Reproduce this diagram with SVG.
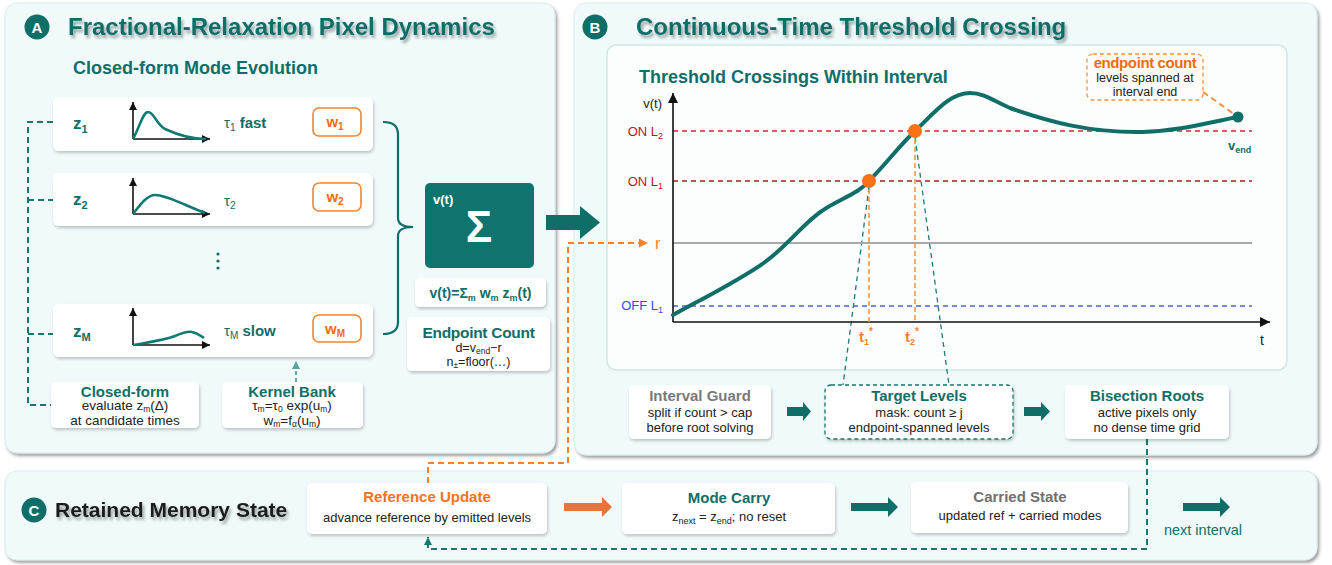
<svg xmlns="http://www.w3.org/2000/svg" width="1332" height="565" viewBox="0 0 1332 565">
<defs>
<style>
text{font-family:"Liberation Sans",Arial,Helvetica,sans-serif;}
.panel{fill:#f0fafb;stroke:#d8ecec;stroke-width:1;filter:url(#panelShadow);}
.ptitle{font-size:24px;font-weight:bold;fill:#0f6e68;filter:url(#textShadow);}
.badge{fill:#0f6e68;}
.badgeT{font-size:15px;font-weight:bold;fill:#fff;text-anchor:middle;}
.card{fill:#fff;filter:url(#boxShadow);}
.tb{font-weight:bold;fill:#0f6e68;}
.t15b{font-size:15px;font-weight:bold;text-anchor:middle;}
.sub13{font-size:13px;fill:#222;text-anchor:middle;}
.sub14{font-size:13.5px;fill:#222;text-anchor:middle;}
.spark{fill:none;stroke:#0f7a72;stroke-width:2.5;}
.axis{stroke:#111;stroke-width:1.6;fill:none;}
.wbox{fill:#fff;stroke:#f7852c;stroke-width:1.6;}
.wT{font-size:15px;font-weight:bold;fill:#f26b0f;text-anchor:middle;}
.dashTeal{fill:none;stroke:#17766f;stroke-width:2;stroke-dasharray:6 4;}
.dashOr{fill:none;stroke:#f7802a;stroke-width:2;stroke-dasharray:6 4;}
</style>
<filter id="panelShadow" x="-3%" y="-3%" width="106%" height="110%"><feDropShadow dx="2" dy="2.5" stdDeviation="1.5" flood-color="#333" flood-opacity="0.45"/></filter>
<filter id="boxShadow" x="-10%" y="-15%" width="125%" height="140%"><feDropShadow dx="1" dy="2" stdDeviation="1.8" flood-color="#000" flood-opacity="0.22"/></filter>
<filter id="textShadow" x="-5%" y="-20%" width="110%" height="150%"><feDropShadow dx="2" dy="3" stdDeviation="1.5" flood-color="#000" flood-opacity="0.35"/></filter>
<marker id="ahBlk" viewBox="0 0 10 10" refX="10" refY="5" markerWidth="8" markerHeight="8" markerUnits="userSpaceOnUse" orient="auto"><path d="M0,0 L10,5 L0,10 z" fill="#111"/></marker>
<marker id="ahAxis" viewBox="0 0 10 10" refX="10" refY="5" markerWidth="11" markerHeight="10" markerUnits="userSpaceOnUse" orient="auto"><path d="M0,0 L10,5 L0,10 z" fill="#111"/></marker>
<marker id="ahOr" viewBox="0 0 10 10" refX="10" refY="5" markerWidth="9" markerHeight="9" markerUnits="userSpaceOnUse" orient="auto"><path d="M0,0 L10,5 L0,10 z" fill="#f7802a"/></marker>
<marker id="ahTeal" viewBox="0 0 10 10" refX="10" refY="5" markerWidth="8" markerHeight="8" markerUnits="userSpaceOnUse" orient="auto"><path d="M0,0 L10,5 L0,10 z" fill="#17766f"/></marker>
<marker id="ahTealL" viewBox="0 0 10 10" refX="10" refY="5" markerWidth="8" markerHeight="8" markerUnits="userSpaceOnUse" orient="auto"><path d="M0,0 L10,5 L0,10 z" fill="#5aa39c"/></marker>
</defs>

<!-- Panels -->
<g id="panel-a">
<rect class="panel" x="5" y="3" width="550" height="450" rx="12"/>
<circle class="badge" cx="37" cy="27" r="12.5"/>
<text class="badgeT" x="37" y="32.5">A</text>
<text class="ptitle" x="68" y="35">Fractional-Relaxation Pixel Dynamics</text>
<text x="73" y="74" font-size="18" font-weight="bold" fill="#0f6e68">Closed-form Mode Evolution</text>
</g>
<g id="panel-b">
<rect class="panel" x="574" y="3" width="743" height="452" rx="12"/>
<circle class="badge" cx="595" cy="27" r="12.5"/>
<text class="badgeT" x="595" y="32.5">B</text>
<text class="ptitle" x="636" y="35">Continuous-Time Threshold Crossing</text>
<rect x="607" y="45" width="680" height="325" rx="9" fill="#fcfefe" stroke="#cfe7e5" stroke-width="1.5"/>
</g>
<g id="panel-c">
<rect class="panel" x="5" y="471" width="1312" height="89" rx="12"/>
<circle class="badge" cx="34" cy="510" r="12.5"/>
<text class="badgeT" x="34" y="515.5">C</text>
<text x="55" y="517" font-size="21" font-weight="bold" fill="#1c1c1c" filter="url(#textShadow)">Retained Memory State</text>
</g>

<!-- Connectors -->
<g id="connectors">
<path class="dashTeal" d="M53,122 H28 V405 H51 M28,200 H53 M28,334 H53"/>
<path d="M383,122 Q398,122 398,134 V218 Q398,227 413,227 Q398,227 398,236 V322 Q398,334 383,334" fill="none" stroke="#0f6e68" stroke-width="2.2"/>
<line x1="296" y1="382" x2="296" y2="361" stroke="#5aa39c" stroke-width="1.8" stroke-dasharray="4 3" marker-end="url(#ahTealL)"/>
<polygon points="546,215 580,215 580,206 600,222.5 580,239 580,230 546,230" fill="#0f6e68"/>
<path class="dashOr" d="M428,483 V463 H568 V243 H648" marker-end="url(#ahOr)"/>
<line x1="869" y1="187" x2="843" y2="385" stroke="#1b7a73" stroke-width="1.3" stroke-dasharray="5 4"/>
<line x1="915" y1="137" x2="949" y2="385" stroke="#1b7a73" stroke-width="1.3" stroke-dasharray="5 4"/>
<line x1="1203" y1="92" x2="1234" y2="114" stroke="#f7923c" stroke-width="2" stroke-dasharray="6 4"/>
<polygon points="787,407 803,407 803,402 811,411.5 803,421 803,416 787,416" fill="#0f6e68"/>
<polygon points="1024,407 1041,407 1041,402 1050,411.5 1041,421 1041,416 1024,416" fill="#0f6e68"/>
<path class="dashTeal" d="M1147,439 V549 H428 V537" stroke-width="1.8" marker-end="url(#ahTeal)"/>
<polygon points="564,503 602,503 602,497 612,507 602,517 602,511 564,511" fill="#e8743b"/>
<polygon points="851,503 888,503 888,497 898,507 888,517 888,511 851,511" fill="#0f6e68"/>
<polygon points="1183,503 1220,503 1220,497 1230,507 1220,517 1220,511 1183,511" fill="#0f6e68"/>
</g>

<!-- Mode rows -->
<g id="node-mode-1">
<rect class="card" x="53" y="97" width="320" height="54" rx="6"/>
<text class="tb" x="73" y="129" font-size="17">z<tspan font-size="11" dy="4">1</tspan></text>
<line class="axis" x1="133" y1="139" x2="133" y2="102" marker-end="url(#ahBlk)"/>
<line class="axis" x1="133" y1="139" x2="210" y2="139" marker-end="url(#ahBlk)"/>
<path class="spark" d="M133,139 C140,126 143,112 148,112 C154,112 156,124 165,129 C180,136 192,139 206,139"/>
<text x="224" y="128" font-size="15" fill="#0f6e68">τ<tspan font-size="10" dy="3">1</tspan><tspan dy="-3" font-weight="bold"> fast</tspan></text>
<rect class="wbox" x="313" y="108" width="48" height="28" rx="6"/>
<text class="wT" x="335" y="127">w<tspan font-size="10" dy="3">1</tspan></text>
</g>
<g id="node-mode-2">
<rect class="card" x="53" y="173" width="320" height="53" rx="6"/>
<text class="tb" x="73" y="205" font-size="17">z<tspan font-size="11" dy="4">2</tspan></text>
<line class="axis" x1="133" y1="214" x2="133" y2="178" marker-end="url(#ahBlk)"/>
<line class="axis" x1="133" y1="214" x2="210" y2="214" marker-end="url(#ahBlk)"/>
<path class="spark" d="M133,214 C140,205 147,195 155,195 C166,195 182,204 205,213"/>
<text x="224" y="206" font-size="15" fill="#0f6e68">τ<tspan font-size="10" dy="3">2</tspan></text>
<rect class="wbox" x="313" y="183" width="48" height="28" rx="6"/>
<text class="wT" x="335" y="202">w<tspan font-size="10" dy="3">2</tspan></text>
</g>
<g id="node-dots">
<circle cx="218" cy="254" r="1.6" fill="#0f6e68"/>
<circle cx="218" cy="261" r="1.6" fill="#0f6e68"/>
<circle cx="218" cy="268" r="1.6" fill="#0f6e68"/>
</g>
<g id="node-mode-m">
<rect class="card" x="53" y="304" width="320" height="53" rx="6"/>
<text class="tb" x="73" y="337" font-size="17">z<tspan font-size="11" dy="4">M</tspan></text>
<line class="axis" x1="133" y1="345" x2="133" y2="308" marker-end="url(#ahBlk)"/>
<line class="axis" x1="133" y1="345" x2="210" y2="345" marker-end="url(#ahBlk)"/>
<path class="spark" d="M133,345 C150,342 165,340 175,336 C182,333 188,331 192,332 C197,333 201,336 204,338"/>
<text x="224" y="336" font-size="15" fill="#0f6e68">τ<tspan font-size="10" dy="3">M</tspan><tspan dy="-3" font-weight="bold"> slow</tspan></text>
<rect class="wbox" x="313" y="315" width="48" height="27" rx="6"/>
<text class="wT" x="335" y="334">w<tspan font-size="10" dy="3">M</tspan></text>
</g>

<g id="node-closed-form">
<rect class="card" x="51" y="382" width="148" height="46" rx="5"/>
<text class="t15b" x="125" y="397" fill="#0f6e68">Closed-form</text>
<text class="sub14" x="125" y="410">evaluate z<tspan font-size="8.5" dy="2">m</tspan><tspan dy="-2">(Δ)</tspan></text>
<text class="sub14" x="125" y="425">at candidate times</text>
</g>
<g id="node-kernel-bank">
<rect class="card" x="222" y="382" width="141" height="46" rx="5"/>
<text class="t15b" x="292" y="397" fill="#0f6e68">Kernel Bank</text>
<text class="sub14" x="292" y="410">τ<tspan font-size="8.5" dy="2">m</tspan><tspan dy="-2">=τ</tspan><tspan font-size="8.5" dy="2">0</tspan><tspan dy="-2"> exp(u</tspan><tspan font-size="8.5" dy="2">m</tspan><tspan dy="-2">)</tspan></text>
<text class="sub14" x="292" y="425">w<tspan font-size="8.5" dy="2">m</tspan><tspan dy="-2">=f</tspan><tspan font-size="8.5" dy="2">α</tspan><tspan dy="-2">(u</tspan><tspan font-size="8.5" dy="2">m</tspan><tspan dy="-2">)</tspan></text>
</g>

<g id="node-sigma">
<rect x="425" y="183" width="109" height="85" rx="5" fill="#0f746d"/>
<text x="433" y="204" font-size="13" font-weight="bold" fill="#fff">v(t)</text>
<text x="479" y="242" font-size="44" font-weight="bold" fill="#fff" text-anchor="middle">Σ</text>
</g>
<g id="node-formula">
<rect class="card" x="415" y="278" width="131" height="29" rx="5"/>
<text x="480.5" y="298" font-size="14" font-weight="bold" fill="#0f6e68" text-anchor="middle">v(t)=Σ<tspan font-size="9" dy="3">m</tspan><tspan dy="-3"> w</tspan><tspan font-size="9" dy="3">m</tspan><tspan dy="-3"> z</tspan><tspan font-size="9" dy="3">m</tspan><tspan dy="-3">(t)</tspan></text>
</g>
<g id="node-endpoint-count">
<rect class="card" x="407" y="317" width="143" height="54" rx="5"/>
<text x="478.5" y="338" font-size="15.5" font-weight="bold" fill="#0f6e68" text-anchor="middle" letter-spacing="-0.3">Endpoint Count</text>
<text x="478.5" y="352" font-size="12.5" fill="#222" text-anchor="middle">d=v<tspan font-size="8.5" dy="2">end</tspan><tspan dy="-2">−r</tspan></text>
<text x="478.5" y="366" font-size="12.5" fill="#222" text-anchor="middle">n<tspan font-size="8.5" dy="2">±</tspan><tspan dy="-2">=floor(…)</tspan></text>
</g>

<!-- Chart -->
<g id="chart">
<text x="639" y="83" font-size="18" font-weight="bold" fill="#0f6e68">Threshold Crossings Within Interval</text>
<line x1="673" y1="131" x2="1252" y2="131" stroke="#d42a2a" stroke-width="1.4" stroke-dasharray="5 4"/>
<line x1="673" y1="181" x2="1252" y2="181" stroke="#b31b1b" stroke-width="1.4" stroke-dasharray="5 4"/>
<line x1="673" y1="243" x2="1252" y2="243" stroke="#a9a9a9" stroke-width="2"/>
<line x1="673" y1="306" x2="1252" y2="306" stroke="#4a63d9" stroke-width="1.4" stroke-dasharray="5 4"/>
<line class="axis" x1="673" y1="322" x2="673" y2="93" marker-end="url(#ahAxis)"/>
<line class="axis" x1="673" y1="322" x2="1270" y2="322" marker-end="url(#ahAxis)"/>
<text x="662" y="108" font-size="13" fill="#222" text-anchor="end">v(t)</text>
<text x="663" y="136" font-size="13" fill="#b31b1b" text-anchor="end">ON L<tspan font-size="9" dy="3">2</tspan></text>
<text x="663" y="186" font-size="13" fill="#b31b1b" text-anchor="end">ON L<tspan font-size="9" dy="3">1</tspan></text>
<text x="663" y="310" font-size="13" fill="#2f4fd8" text-anchor="end">OFF L<tspan font-size="9" dy="3">1</tspan></text>
<text x="655" y="249" font-size="16" fill="#f7802a">r</text>
<line x1="869" y1="181" x2="869" y2="322" stroke="#f7923c" stroke-width="1.5" stroke-dasharray="5 3"/>
<line x1="915" y1="131" x2="915" y2="322" stroke="#f7923c" stroke-width="1.5" stroke-dasharray="5 3"/>
<path d="M673,315 C700,300 740,280 765,262 C790,244 805,220 828,207 C845,197 860,192 869,181 C885,165 900,145 915,131 C935,112 950,93 970,93 C985,93 995,102 1010,108 C1050,122 1090,133 1143,132 C1180,131 1210,122 1238,117" fill="none" stroke="#0f6e68" stroke-width="4" stroke-linecap="round"/>
<circle cx="869" cy="181" r="7" fill="#f97316"/>
<circle cx="915" cy="131" r="7" fill="#f97316"/>
<circle cx="1238" cy="117" r="5.5" fill="#0f6e68"/>
<text x="1228" y="150" font-size="13" font-weight="bold" fill="#0f6e68">v<tspan font-size="9" dy="3">end</tspan></text>
<text x="866" y="342" font-size="15" font-weight="bold" fill="#f7802a" text-anchor="middle">t<tspan font-size="9" dy="3">1</tspan><tspan font-size="10" dy="-10">*</tspan></text>
<text x="912" y="342" font-size="15" font-weight="bold" fill="#f7802a" text-anchor="middle">t<tspan font-size="9" dy="3">2</tspan><tspan font-size="10" dy="-10">*</tspan></text>
<text x="1262" y="345" font-size="14" fill="#222" text-anchor="middle">t</text>
</g>
<g id="node-endpoint-callout">
<rect x="1087" y="54" width="116" height="46" rx="6" fill="#fffdf9" stroke="#f7923c" stroke-width="1.3" stroke-dasharray="4 3"/>
<text x="1145" y="68" font-size="15" font-weight="bold" fill="#f26b0f" text-anchor="middle" letter-spacing="-0.4">endpoint count</text>
<text x="1145" y="82" font-size="12.5" fill="#222" text-anchor="middle">levels spanned at</text>
<text x="1145" y="96" font-size="12.5" fill="#222" text-anchor="middle">interval end</text>
</g>

<!-- Panel B bottom row -->
<g id="node-interval-guard">
<rect class="card" x="629" y="385" width="142" height="54" rx="5"/>
<text class="t15b" x="700" y="401" fill="#7a7a7a">Interval Guard</text>
<text class="sub13" x="700" y="417">split if count &gt; cap</text>
<text class="sub13" x="700" y="432">before root solving</text>
</g>
<g id="node-target-levels">
<rect x="825" y="385" width="188" height="54" rx="6" fill="#fff" stroke="#17766f" stroke-width="1.3" stroke-dasharray="4 3" filter="url(#boxShadow)"/>
<text class="t15b" x="919" y="401" fill="#0f6e68">Target Levels</text>
<text class="sub13" x="919" y="417">mask: count ≥ j</text>
<text class="sub13" x="919" y="432">endpoint-spanned levels</text>
</g>
<g id="node-bisection">
<rect class="card" x="1065" y="385" width="164" height="54" rx="5"/>
<text class="t15b" x="1147" y="401" fill="#0f6e68">Bisection Roots</text>
<text class="sub13" x="1147" y="417">active pixels only</text>
<text class="sub13" x="1147" y="432">no dense time grid</text>
</g>

<!-- Panel C nodes -->
<g id="node-reference-update">
<rect class="card" x="307" y="483" width="240" height="51" rx="5"/>
<text class="t15b" x="427" y="502" fill="#f7731c" font-size="15.5">Reference Update</text>
<text class="sub13" x="427" y="522">advance reference by emitted levels</text>
</g>
<g id="node-mode-carry">
<rect class="card" x="622" y="483" width="213" height="51" rx="5"/>
<text class="t15b" x="729" y="503" fill="#0f6e68">Mode Carry</text>
<text class="sub13" x="729" y="521">z<tspan font-size="9" dy="3">next</tspan><tspan dy="-3"> = z</tspan><tspan font-size="9" dy="3">end</tspan><tspan dy="-3">; no reset</tspan></text>
</g>
<g id="node-carried-state">
<rect class="card" x="911" y="482" width="217" height="51" rx="5"/>
<text class="t15b" x="1020" y="502" fill="#707070">Carried State</text>
<text class="sub13" x="1020" y="520">updated ref + carried modes</text>
</g>
<g id="node-next-interval">
<text x="1203" y="535" font-size="14.5" fill="#0f6e68" text-anchor="middle">next interval</text>
</g>
</svg>
